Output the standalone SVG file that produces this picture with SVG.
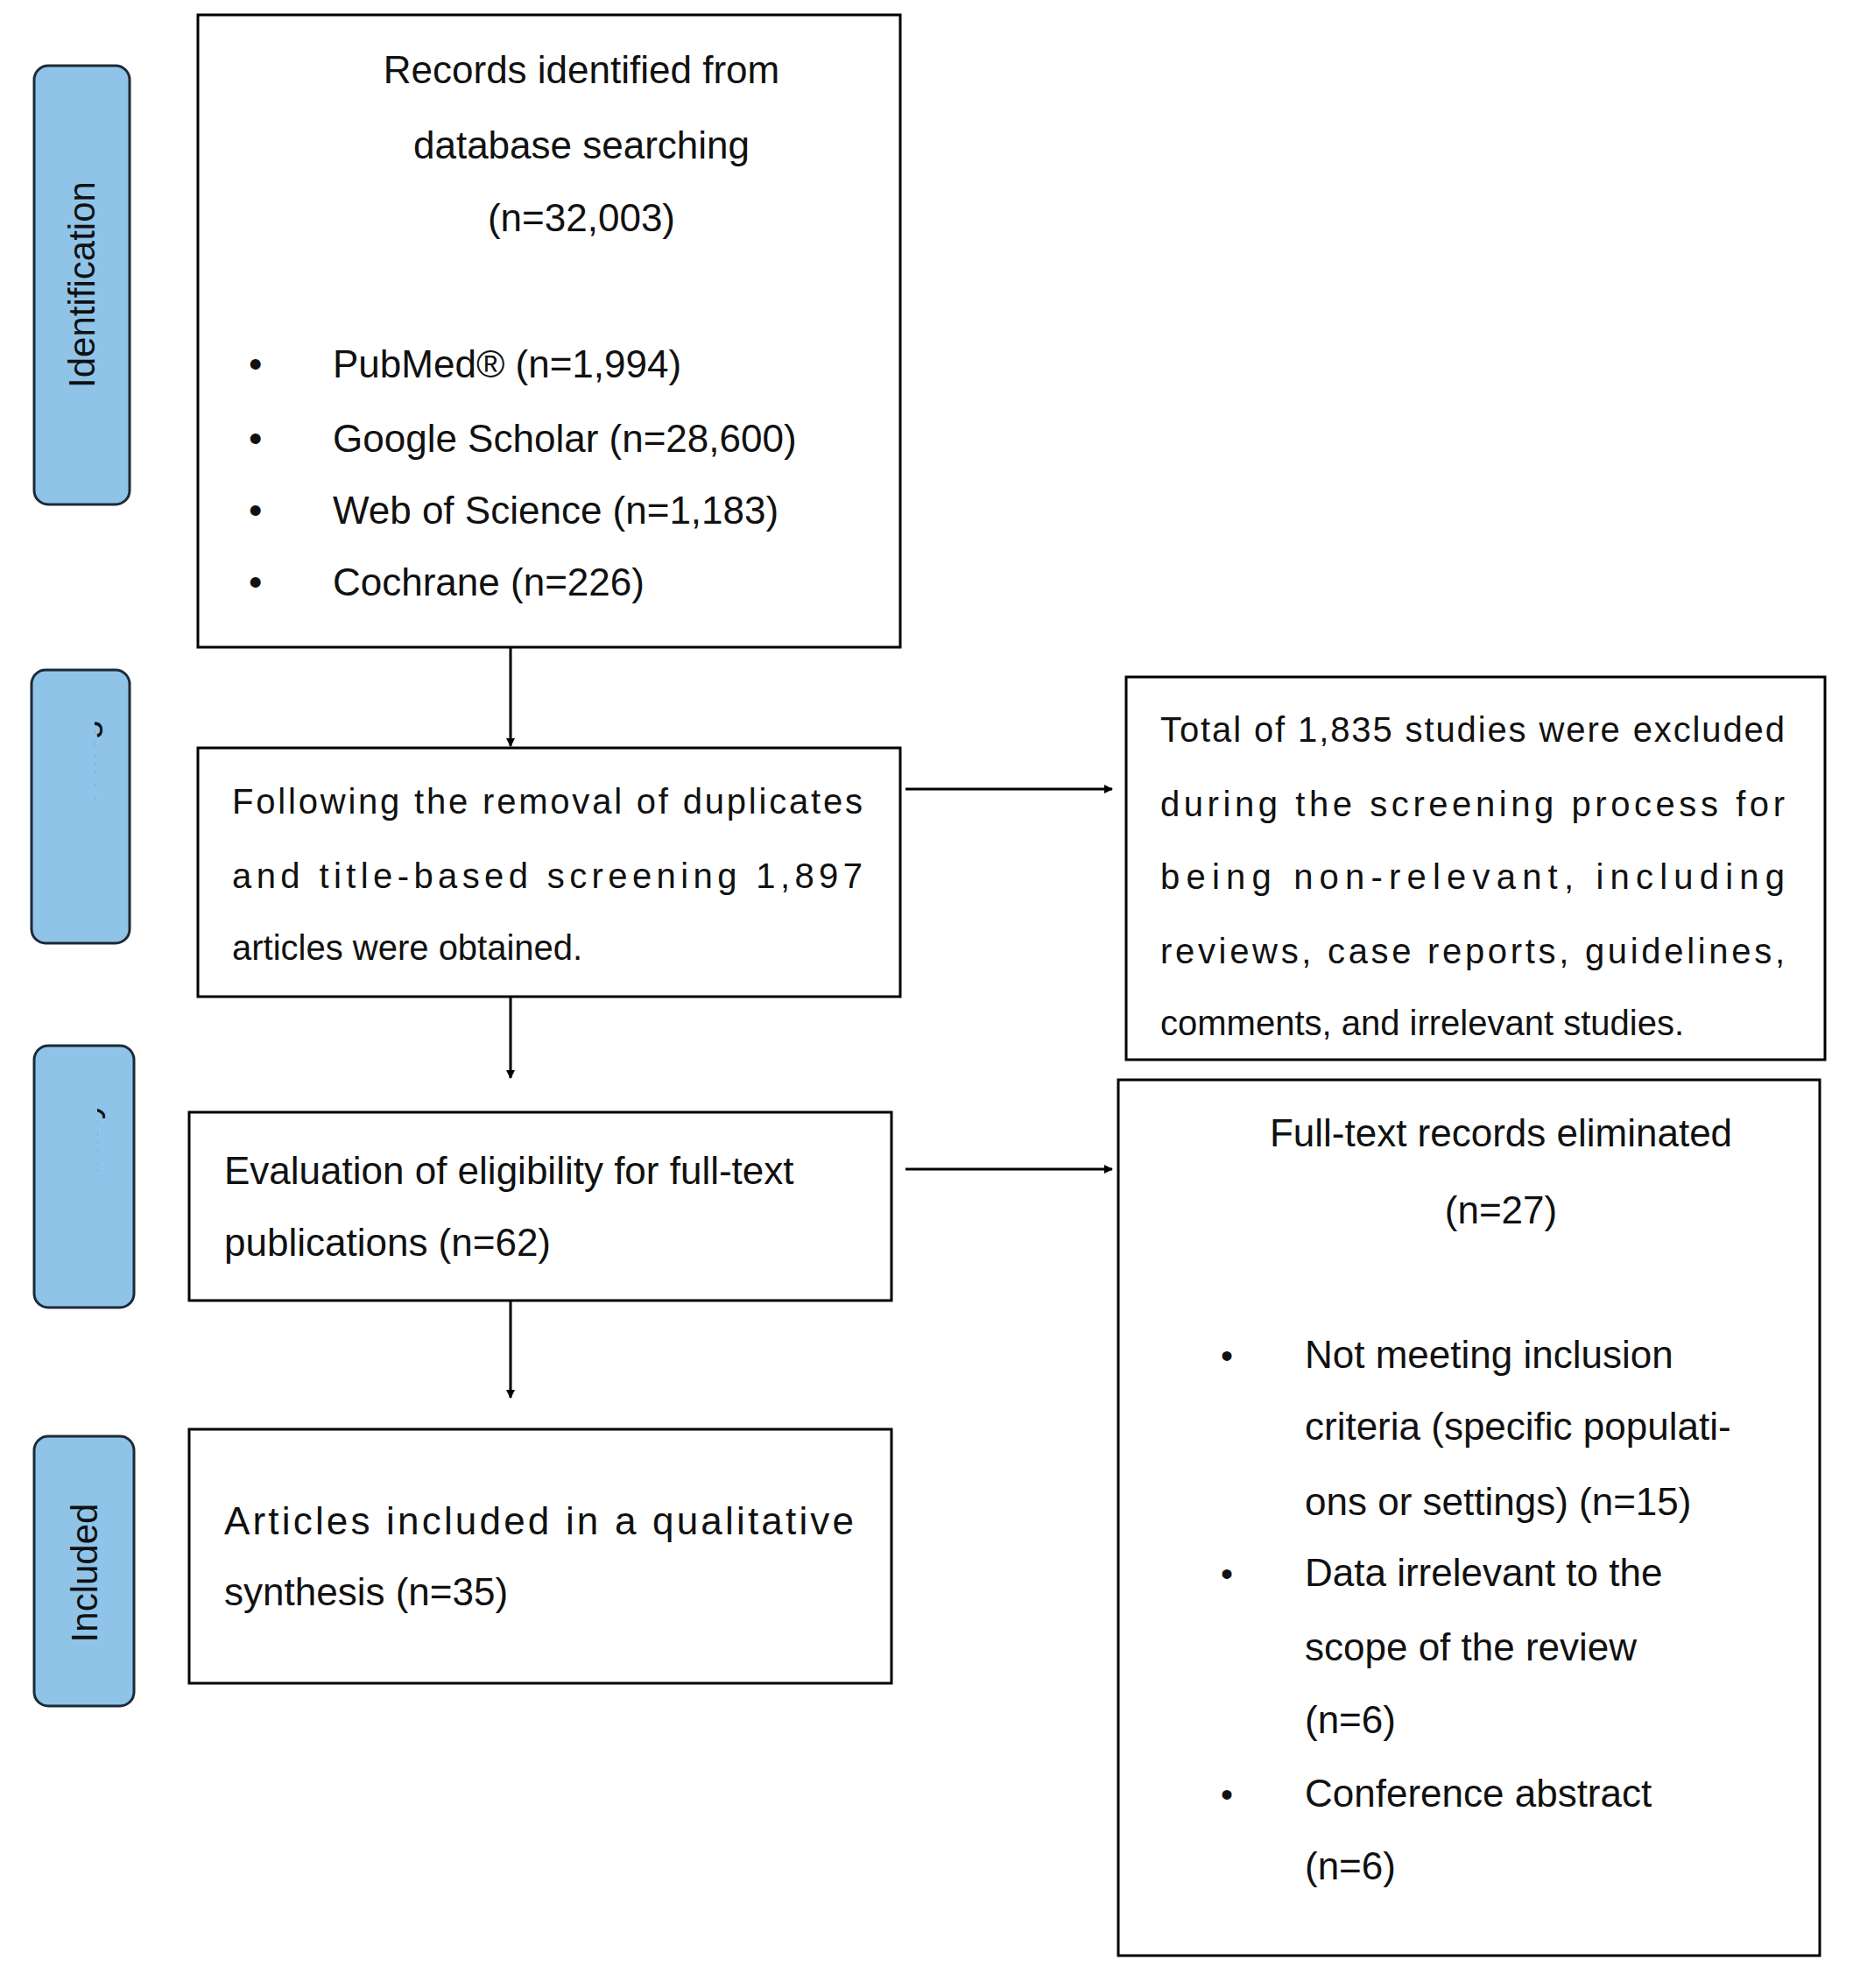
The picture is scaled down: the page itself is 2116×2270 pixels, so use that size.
<svg xmlns="http://www.w3.org/2000/svg" width="2116" height="2270" viewBox="0 0 2116 2270">
<style>
.box{fill:#fff;stroke:#000;stroke-width:3}
.pill{fill:#8fc4e8;stroke:#1c2a38;stroke-width:3}
.t{font-family:"Liberation Sans",Arial,sans-serif;font-size:44px;fill:#111}
.s{font-family:"Liberation Sans",Arial,sans-serif;font-size:40px;fill:#111}
.p{font-family:"Liberation Sans",Arial,sans-serif;font-size:42px;fill:#111}
.c{stroke:#000;stroke-width:3;fill:none}
</style>
<defs>
<marker id="ah" markerWidth="10" markerHeight="10" refX="9" refY="5" orient="auto" markerUnits="userSpaceOnUse" viewBox="0 0 10 10"><path d="M0,0 L10,5 L0,10 z" fill="#000"/></marker>
<clipPath id="clip1"><rect x="0" y="0" width="128" height="2270"/></clipPath>
</defs>
<rect width="2116" height="2270" fill="#fff"/>
<g id="lane-identification"><rect class="pill" x="39" y="75" width="109" height="501" rx="16"/><text class="p" transform="translate(108,325) rotate(-90)" text-anchor="middle">Identification</text></g>
<g id="lane-screening"><rect class="pill" x="36" y="765" width="112" height="312" rx="16"/><text class="p" clip-path="url(#clip1)" transform="translate(108,916) rotate(-90)" text-anchor="middle">Screening</text></g>
<g id="lane-eligibility"><rect class="pill" x="39" y="1194" width="114" height="299" rx="16"/><text class="p" clip-path="url(#clip1)" transform="translate(111,1339) rotate(-90)" text-anchor="middle">Eligibility</text></g>
<g id="lane-included"><rect class="pill" x="39" y="1640" width="114" height="308" rx="16"/><text class="p" transform="translate(111,1796) rotate(-90)" text-anchor="middle">Included</text></g>
<g id="records"><rect class="box" x="226" y="17" width="802" height="722"/>
<text class="t" x="664" y="95" text-anchor="middle">Records identified from</text>
<text class="t" x="664" y="181" text-anchor="middle">database searching</text>
<text class="t" x="664" y="264" text-anchor="middle">(n=32,003)</text>
<text class="t" x="284" y="431">•</text><text class="t" x="380" y="431">PubMed® (n=1,994)</text>
<text class="t" x="284" y="516">•</text><text class="t" x="380" y="516">Google Scholar (n=28,600)</text>
<text class="t" x="284" y="598">•</text><text class="t" x="380" y="598">Web of Science (n=1,183)</text>
<text class="t" x="284" y="680">•</text><text class="t" x="380" y="680">Cochrane (n=226)</text></g>
<g id="screened"><rect class="box" x="226" y="854" width="802" height="284"/>
<text class="s" x="265" y="929" textLength="720" lengthAdjust="spacing">Following the removal of duplicates</text>
<text class="s" x="265" y="1014" textLength="720" lengthAdjust="spacing">and title-based screening 1,897</text>
<text class="s" x="265" y="1096">articles were obtained.</text></g>
<g id="excluded"><rect class="box" x="1286" y="773" width="798" height="437"/>
<text class="s" x="1325" y="847" textLength="713" lengthAdjust="spacing">Total of 1,835 studies were excluded</text>
<text class="s" x="1325" y="932" textLength="713" lengthAdjust="spacing">during the screening process for</text>
<text class="s" x="1325" y="1015" textLength="713" lengthAdjust="spacing">being non-relevant, including</text>
<text class="s" x="1325" y="1100" textLength="713" lengthAdjust="spacing">reviews, case reports, guidelines,</text>
<text class="s" x="1325" y="1182">comments, and irrelevant studies.</text></g>
<g id="eligibility"><rect class="box" x="216" y="1270" width="802" height="215"/>
<text class="t" x="256" y="1352">Evaluation of eligibility for full-text</text>
<text class="t" x="256" y="1434">publications (n=62)</text></g>
<g id="fulltext-excluded"><rect class="box" x="1277" y="1233" width="801" height="1000"/>
<text class="t" x="1714" y="1309" text-anchor="middle">Full-text records eliminated</text>
<text class="t" x="1714" y="1397" text-anchor="middle">(n=27)</text>
<text class="s" x="1394" y="1562">•</text><text class="t" x="1490" y="1562">Not meeting inclusion</text>
<text class="t" x="1490" y="1644">criteria (specific populati-</text>
<text class="t" x="1490" y="1730">ons or settings) (n=15)</text>
<text class="s" x="1394" y="1811">•</text><text class="t" x="1490" y="1811">Data irrelevant to the</text>
<text class="t" x="1490" y="1896">scope of the review</text>
<text class="t" x="1490" y="1979">(n=6)</text>
<text class="s" x="1394" y="2063">•</text><text class="t" x="1490" y="2063">Conference abstract</text>
<text class="t" x="1490" y="2146">(n=6)</text></g>
<g id="included"><rect class="box" x="216" y="1632" width="802" height="290"/>
<text class="t" x="256" y="1752" textLength="719" lengthAdjust="spacing">Articles included in a qualitative</text>
<text class="t" x="256" y="1833">synthesis (n=35)</text></g>
<g id="connectors">
<line class="c" x1="583" y1="739" x2="583" y2="852" marker-end="url(#ah)"/>
<line class="c" x1="583" y1="1138" x2="583" y2="1231" marker-end="url(#ah)"/>
<line class="c" x1="583" y1="1485" x2="583" y2="1596" marker-end="url(#ah)"/>
<line class="c" x1="1034" y1="901" x2="1270" y2="901" marker-end="url(#ah)"/>
<line class="c" x1="1034" y1="1335" x2="1270" y2="1335" marker-end="url(#ah)"/>
</g>
</svg>
